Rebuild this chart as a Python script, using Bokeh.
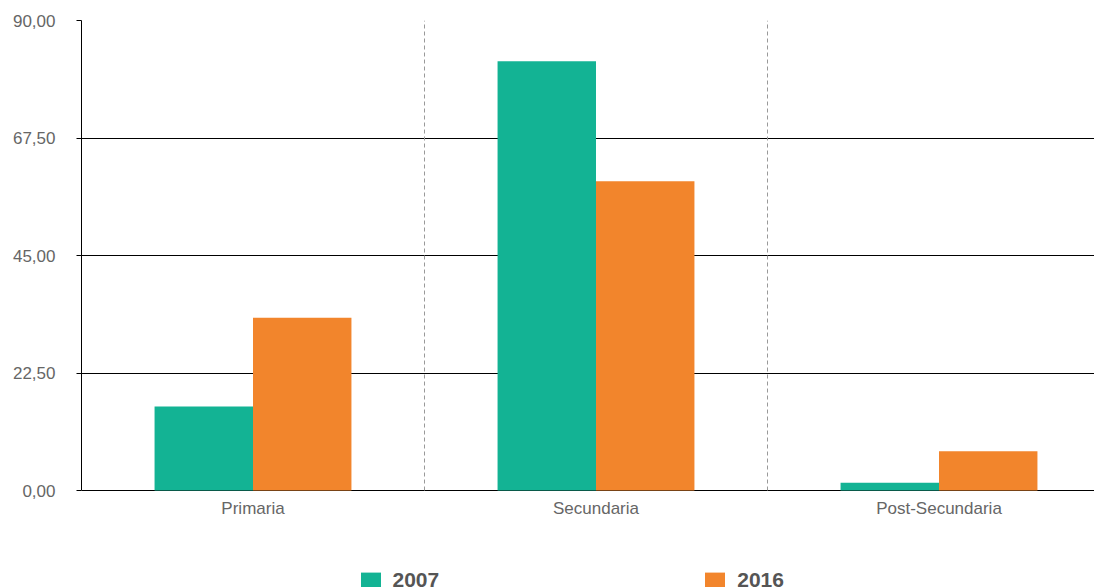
from bokeh.plotting import figure
from bokeh.models import ColumnDataSource, FixedTicker, Legend, LegendItem
from bokeh.core.properties import value
from bokeh.embed import file_html
from bokeh.resources import INLINE

categories = ["Primaria", "Secundaria", "Post-Secundaria"]
series_names = ["2007", "2016"]
values_2007 = [16.1, 82.2, 1.5]
values_2016 = [33.1, 59.2, 7.5]
y_ticks = [0, 22.5, 45, 67.5, 90]
y_tick_labels = ["0,00", "22,50", "45,00", "67,50", "90,00"]
colors = ["#13B394", "#F2852C"]

x = list(range(len(categories)))
bw = 0.287
src07 = ColumnDataSource(dict(x=[i - bw / 2 for i in x], top=values_2007))
src16 = ColumnDataSource(dict(x=[i + bw / 2 for i in x], top=values_2016))

W, H = 1094, 587
LEFT, TOP, ZERO_Y = 81, 20, 490
ymax = y_ticks[-1]
px_per_unit = (ZERO_Y - TOP) / ymax
ymin = -(H - ZERO_Y) / px_per_unit  # frame extends to canvas bottom so the legend is not clipped

p = figure(width=W, height=H, output_backend="svg", toolbar_location=None,
           x_range=(-0.5, -0.5 + (W - LEFT) / 343), y_range=(ymin, ymax),
           min_border_left=LEFT, min_border_top=TOP, min_border_right=0,
           min_border_bottom=0)
p.outline_line_color = None
p.background_fill_color = "white"

# category separators (dashed)
p.segment(x0=[i + 0.5 for i in x[:-1]], x1=[i + 0.5 for i in x[:-1]],
          y0=0, y1=ymax, line_color="#999999", line_dash="4 3", line_width=1)

r1 = p.vbar(x="x", top="top", width=bw, source=src07, fill_color=colors[0], line_color=None)
r2 = p.vbar(x="x", top="top", width=bw, source=src16, fill_color=colors[1], line_color=None)

# category labels
p.text(x=x, y=[0] * len(x), text=categories, y_offset=8,
       text_align="center", text_baseline="top",
       text_font=value("Liberation Sans"), text_font_size="17px", text_color="#666666")

# y axis
p.yaxis.ticker = FixedTicker(ticks=y_ticks)
p.yaxis.bounds = (0, ymax)
p.yaxis.major_label_overrides = {t: l for t, l in zip(y_ticks, y_tick_labels)}
p.yaxis.axis_line_color = "black"
p.yaxis.major_tick_line_color = "black"
p.yaxis.major_tick_out = 5
p.yaxis.major_tick_in = 0
p.yaxis.minor_tick_line_color = None
p.yaxis.major_label_standoff = 21
p.yaxis.major_label_text_font = "Liberation Sans"
p.yaxis.major_label_text_font_size = "17px"
p.yaxis.major_label_text_color = "#666666"

p.xaxis.visible = False
p.xgrid.visible = False

# grids
p.ygrid.ticker = FixedTicker(ticks=y_ticks)
p.ygrid.grid_line_color = "black"
p.ygrid.grid_line_width = 1

legend = Legend(items=[LegendItem(label=series_names[0], renderers=[r1]),
                       LegendItem(label=series_names[1], renderers=[r2])],
                orientation="horizontal", location=(276.5, -5),
                glyph_width=25, glyph_height=21, label_standoff=10,
                spacing=263, padding=0, margin=0,
                border_line_color=None, background_fill_alpha=0,
                label_text_font="Liberation Sans", label_text_font_size="21px",
                label_text_font_style="bold", label_text_color="#555555")
p.add_layout(legend, "center")

open("out.html", "w").write(file_html(p, INLINE))
